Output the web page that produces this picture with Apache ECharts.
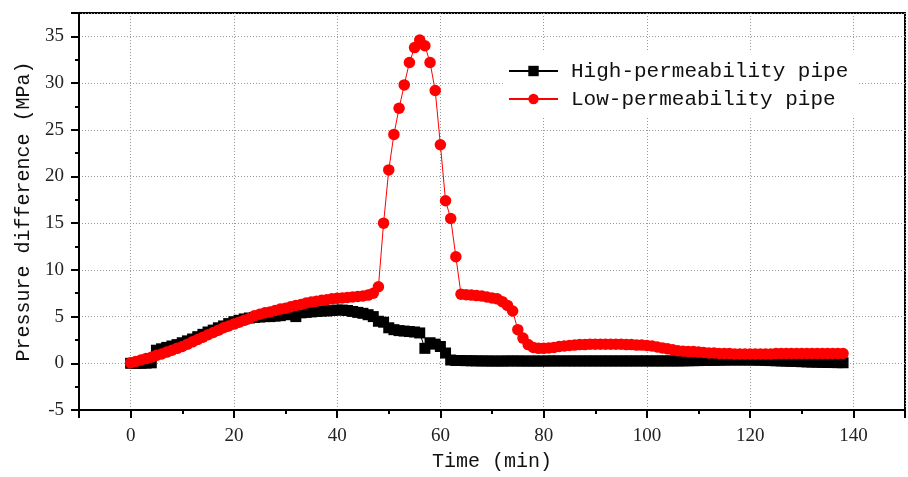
<!DOCTYPE html>
<html>
<head>
<meta charset="utf-8">
<script src="https://cdn.jsdelivr.net/npm/echarts@6/dist/echarts.min.js"></script>
<style>html,body{margin:0;padding:0;background:#fff}#c{width:908px;height:477px}</style>
</head>
<body>
<div id="c"></div>
<script>
// ---- data ----
const time = [0,1,2,3,4,5,6,7,8,9,10,11,12,13,14,15,16,17,18,19,20,21,22,23,24,25,26,27,28,29,30,31,32,33,34,35,36,37,38,39,40,41,42,43,44,45,46,47,48,49,50,51,52,53,54,55,56,57,58,59,60,61,62,63,64,65,66,67,68,69,70,71,72,73,74,75,76,77,78,79,80,81,82,83,84,85,86,87,88,89,90,91,92,93,94,95,96,97,98,99,100,101,102,103,104,105,106,107,108,109,110,111,112,113,114,115,116,117,118,119,120,121,122,123,124,125,126,127,128,129,130,131,132,133,134,135,136,137,138];
const highPerm = [0,0,0,0.02,0.05,1.4,1.55,1.7,1.85,2.0,
  2.2,2.4,2.6,2.85,3.1,3.35,3.55,3.8,4.0,4.25,
  4.45,4.6,4.75,4.85,4.9,4.95,5.0,5.0,5.05,5.1,
  5.2,5.3,5.0,5.4,5.45,5.5,5.55,5.6,5.6,5.65,
  5.7,5.7,5.65,5.55,5.45,5.35,5.2,5.0,4.5,4.4,
  3.8,3.6,3.5,3.45,3.4,3.35,3.25,1.6,2.2,2.05,
  1.8,1.1,0.35,0.3,0.3,0.28,0.27,0.26,0.25,0.25,
  0.24,0.24,0.24,0.25,0.25,0.25,0.24,0.24,0.24,0.24,
  0.24,0.25,0.25,0.25,0.25,0.25,0.25,0.25,0.25,0.25,
  0.25,0.25,0.25,0.25,0.25,0.25,0.25,0.25,0.25,0.25,
  0.25,0.25,0.25,0.25,0.25,0.25,0.25,0.26,0.27,0.28,
  0.29,0.3,0.31,0.32,0.33,0.34,0.35,0.35,0.35,0.35,
  0.35,0.34,0.33,0.31,0.29,0.27,0.25,0.23,0.21,0.19,
  0.17,0.15,0.13,0.12,0.1,0.09,0.08,0.07,0.06];
const lowPerm = [0.05,0.2,0.35,0.5,0.65,0.85,1.0,1.2,1.4,1.6,
  1.8,2.05,2.3,2.55,2.8,3.05,3.3,3.55,3.8,4.0,
  4.2,4.4,4.6,4.8,5.1,5.25,5.4,5.5,5.65,5.8,
  5.9,6.05,6.2,6.3,6.45,6.55,6.65,6.75,6.8,6.9,
  6.95,7.0,7.05,7.1,7.15,7.2,7.3,7.5,8.2,15.0,
  20.7,24.5,27.3,29.8,32.2,33.8,34.6,34.0,32.2,29.2,
  23.4,17.4,15.5,11.4,7.4,7.35,7.3,7.25,7.2,7.1,
  7.0,6.9,6.6,6.2,5.6,3.6,2.7,2.0,1.7,1.6,
  1.6,1.65,1.7,1.8,1.85,1.9,1.95,2.0,2.0,2.05,
  2.05,2.05,2.05,2.05,2.05,2.05,2.0,2.0,1.95,1.95,
  1.9,1.85,1.75,1.65,1.55,1.45,1.35,1.3,1.25,1.25,
  1.2,1.15,1.1,1.1,1.05,1.05,1.05,1.0,1.0,1.0,
  1.0,1.0,1.0,1.0,1.0,1.05,1.05,1.05,1.05,1.05,
  1.05,1.05,1.05,1.05,1.05,1.05,1.05,1.05,1.05];
const seriesNames = ['High-permeability pipe', 'Low-permeability pipe'];
const xTickLabels = [0, 20, 40, 60, 80, 100, 120, 140];
const yTickLabels = [-5, 0, 5, 10, 15, 20, 25, 30, 35];
const xTitle = 'Time (min)';
const yTitle = 'Pressure difference (MPa)';

// ---- chart ----
const monoFont = 'Liberation Mono';
const numFont = 'Liberation Serif';
const pair = (vals) => time.map((t, i) => [t, vals[i]]);

const chart = echarts.init(document.getElementById('c'), null, {renderer: 'canvas'});
chart.setOption({
  animation: false,
  backgroundColor: '#fff',
  grid: {left: 79, top: 13, right: -4, bottom: 67, show: true, borderColor: '#000', borderWidth: 2},
  legend: {
    orient: 'vertical', left: 503, top: 52,
    backgroundColor: '#fff', padding: [8, 10, 8, 5],
    itemWidth: 49, itemHeight: 13, itemGap: 6,
    textStyle: {fontFamily: monoFont, fontSize: 21, color: '#111', lineHeight: 22, padding: [0, 0, 0, 8]},
    data: seriesNames
  },
  xAxis: [{
    type: 'value', min: -10, max: 150, minInterval: 20, maxInterval: 20, position: 'bottom',
    axisLine: {show: true, onZero: false, lineStyle: {color: '#000', width: 2}},
    axisTick: {show: true, length: 8, lineStyle: {color: '#000', width: 2}},
    axisLabel: {margin: 17, fontFamily: numFont, fontSize: 19, color: '#222',
      formatter: v => xTickLabels.includes(v) ? String(v) : ''},
    splitLine: {show: true, lineStyle: {color: '#999', width: 1, type: [1, 2]}},
    name: xTitle, nameLocation: 'middle', nameGap: 42,
    nameTextStyle: {fontFamily: monoFont, fontSize: 20, color: '#111'}
  }, {
    type: 'value', min: -10, max: 150, interval: 10, position: 'bottom',
    axisLine: {show: false, onZero: false},
    axisTick: {show: true, length: 4, lineStyle: {color: '#000', width: 2}},
    axisLabel: {show: false}, splitLine: {show: false}
  }],
  yAxis: [{
    type: 'value', min: -5, max: 37.5, interval: 5, position: 'left',
    axisLine: {show: true, onZero: false, lineStyle: {color: '#000', width: 2}},
    axisTick: {show: true, length: 8, lineStyle: {color: '#000', width: 2}},
    axisLabel: {margin: 15, fontFamily: numFont, fontSize: 19, color: '#222',
      formatter: v => yTickLabels.includes(v) ? String(v) : ''},
    splitLine: {show: true, lineStyle: {color: '#999', width: 1, type: [1, 2]}},
    name: yTitle, nameLocation: 'middle', nameGap: 42,
    nameTextStyle: {fontFamily: monoFont, fontSize: 20, color: '#111'}
  }, {
    type: 'value', min: -5, max: 37.5, interval: 2.5, position: 'left',
    axisLine: {show: false, onZero: false},
    axisTick: {show: true, length: 4, lineStyle: {color: '#000', width: 2}},
    axisLabel: {show: false}, splitLine: {show: false}
  }],
  series: [{
    name: seriesNames[0], type: 'line', xAxisIndex: 0, yAxisIndex: 0,
    data: pair(highPerm), symbol: 'rect', symbolSize: 11, showAllSymbol: true,
    itemStyle: {color: '#000'}, lineStyle: {color: '#000', width: 1}
  }, {
    name: seriesNames[1], type: 'line', xAxisIndex: 0, yAxisIndex: 0,
    data: pair(lowPerm), symbol: 'circle', symbolSize: 11.5, showAllSymbol: true,
    itemStyle: {color: '#ff0000'}, lineStyle: {color: '#ff0000', width: 1}
  }]
});
</script>
</body>
</html>
